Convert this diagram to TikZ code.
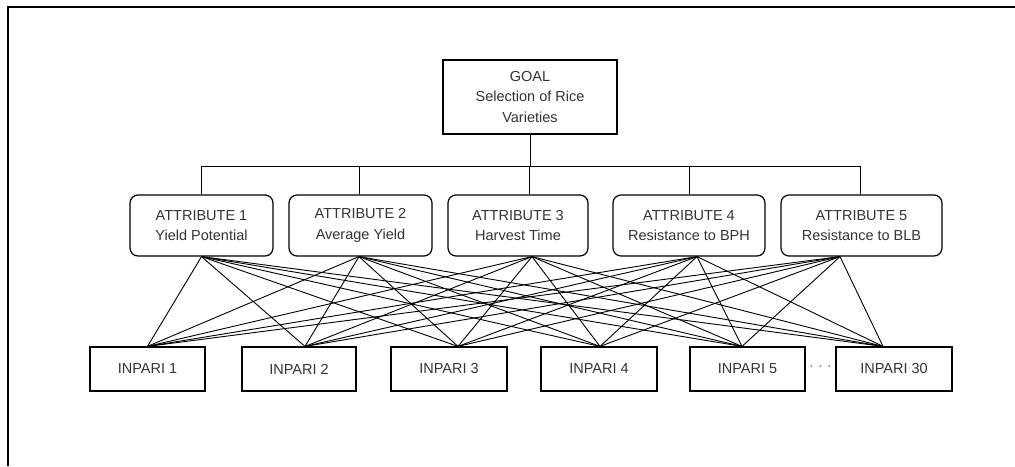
\documentclass[tikz,border=0pt]{standalone}
\usepackage{fontspec}
\setmainfont{Liberation Sans}
\usetikzlibrary{calc}

\begin{document}
\begin{tikzpicture}[x=1pt, y=-1pt,
		box/.style={draw, line width=1.2pt, align=center, inner sep=0pt, text=black!80, font=\fontsize{14.5}{20.5}\selectfont},
		attbox/.style={box, rounded corners=8pt, minimum height=61pt},
		inpbox/.style={box, minimum height=44pt},
		link/.style={line width=0.9pt}]
			%%%%% START %%%%%
			
			\useasboundingbox (0,0) rectangle (1015,466);
			\draw[line width=1.8pt] (8,466) -- (8,7) -- (1015,7);
			
			\node[box, minimum width=174pt, minimum height=74pt] (goal) at (530,97) {GOAL\\Selection of Rice\\Varieties};
			
			\node[attbox, minimum width=143pt] (att1) at (201.5,225.5) {ATTRIBUTE 1\\Yield Potential};
			\node[attbox, minimum width=143pt] (att2) at (360.5,225.5) {ATTRIBUTE 2\\Average Yield};
			\node[attbox, minimum width=140pt] (att3) at (518,225.5) {ATTRIBUTE 3\\Harvest Time};
			\node[attbox, minimum width=152pt] (att4) at (689,225.5) {ATTRIBUTE 4\\Resistance to BPH};
			\node[attbox, minimum width=161pt] (att5) at (861.5,225.5) {ATTRIBUTE 5\\Resistance to BLB};
			
			\node[inpbox, minimum width=115pt] (inp1) at (147.5,369) {INPARI 1};
			\node[inpbox, minimum width=114pt] (inp2) at (299,369) {INPARI 2};
			\node[inpbox, minimum width=116pt] (inp3) at (449,369) {INPARI 3};
			\node[inpbox, minimum width=116pt] (inp4) at (599,369) {INPARI 4};
			\node[inpbox, minimum width=115pt] (inp5) at (747.5,369) {INPARI 5};
			\node[inpbox, minimum width=116pt] (inp30) at (894,369) {INPARI 30};
			\node[text=black!55, font=\fontsize{14.5}{17}\selectfont] (dots) at (820.5,368) {· · ·};
			
			% where the lines meet the boxes
			\coordinate (att1t) at (att1.north);
			\coordinate (att2t) at ([xshift=-1.5pt]att2.north);
			\coordinate (att3t) at ([xshift=11pt]att3.north);
			\coordinate (att4t) at (att4.north);
			\coordinate (att5t) at ([xshift=-1.5pt]att5.north);
			
			\coordinate (att1b) at (att1.south);
			\coordinate (att2b) at ([xshift=-1.5pt]att2.south);
			\coordinate (att3b) at ([xshift=14pt]att3.south);
			\coordinate (att4b) at ([xshift=8pt]att4.south);
			\coordinate (att5b) at ([xshift=-21.5pt]att5.south);
			
			\coordinate (inp1t) at (inp1.north);
			\coordinate (inp2t) at ([xshift=6pt]inp2.north);
			\coordinate (inp3t) at ([xshift=9pt]inp3.north);
			\coordinate (inp4t) at ([xshift=1pt]inp4.north);
			\coordinate (inp5t) at ([xshift=-5.5pt]inp5.north);
			\coordinate (inp30t) at ([xshift=-11pt]inp30.north);
			
			\draw[link] (goal.south) -- ++(0,32) coordinate (bar);
			\foreach \n in {1,...,5}
				\draw[link] (bar) -| (att\n t);
			
			\foreach \a in {1,...,5}
				\foreach \i in {1,2,3,4,5,30}
					\draw[link] (att\a b) -- (inp\i t);
			
			%%%%% END %%%%%
\end{tikzpicture}
\end{document}
